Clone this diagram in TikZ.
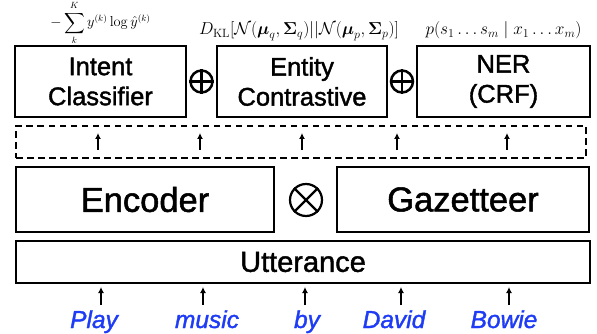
\documentclass[tikz,border=0pt]{standalone}
\usepackage{amsmath}
\usepackage[no-math]{fontspec}
\newfontfamily\hv[FakeBold=1.5]{Liberation Sans}
\usetikzlibrary{arrows.meta}
\definecolor{wordblue}{RGB}{30,60,245}
\begin{document}
\begin{tikzpicture}[x=1pt,y=-1pt,
  box/.style={draw, line width=2pt, rectangle, inner sep=0pt, align=center},
  small/.style={font=\hv\fontsize{25.5}{30}\selectfont},
  big/.style={font=\hv\fontsize{34.5}{40}\selectfont},
  mid/.style={font=\hv\fontsize{29}{34}\selectfont},
  arr/.style={-{Latex[length=6pt,width=6pt]}, line width=1.6pt},
  word/.style={anchor=base, font=\hv\itshape\fontsize{24.5}{28}\selectfont, text=wordblue},
  op/.style={circle, draw, inner sep=0pt},
  formula/.style={anchor=base, font=\fontsize{17.5}{20}\selectfont},
  ]
\useasboundingbox (0,0) rectangle (597,334);

% top modules
\node[box, small, minimum width=171pt, minimum height=71pt] (intent) at (100.5,81.5) {Intent\\Classifier};
\node[box, small, minimum width=170pt, minimum height=71pt] (entity) at (302,81.5) {Entity\\Contrastive};
\node[box, small, minimum width=173pt, minimum height=71pt] (ner) at (503.5,81.5) {NER\\(CRF)};

\node[op, line width=2.5pt, minimum size=22pt] (plusa) at (201.5,81.5) {};
\draw[line width=2.5pt] (plusa.north) -- (plusa.south) (plusa.west) -- (plusa.east);
\node[op, line width=2.5pt, minimum size=22pt] (plusb) at (402,81.5) {};
\draw[line width=2.5pt] (plusb.north) -- (plusb.south) (plusb.west) -- (plusb.east);

% formulas
\node[formula, font=\fontsize{13.5}{16}\selectfont] (fa) at (100.5,27) {$\displaystyle -\sum_{k}^{K} y^{(k)}\log\hat{y}^{(k)}$};
\node[formula] (fb) at (299,34.5) {$D_{\mathrm{KL}}[\mathcal{N}(\boldsymbol{\mu}_q,\boldsymbol{\Sigma}_q)||\mathcal{N}(\boldsymbol{\mu}_p,\boldsymbol{\Sigma}_p)]$};
\node[formula, font=\fontsize{18.5}{21}\selectfont] (fc) at (503.5,34.5) {$p(s_1\ldots s_m\mid x_1\ldots x_m)$};

% dashed layer
\node[draw, line width=1.8pt, dash pattern=on 6.5pt off 4.5pt, minimum width=570pt, minimum height=32pt, inner sep=0pt] (layer) at (301,142) {};
\foreach \i/\x in {1/98,2/200,3/302,4/397,5/507}{
  \coordinate (ls\i) at (\x,150);
  \coordinate (le\i) at (\x,133);
  \draw[arr] (ls\i) -- (le\i);
}

% encoder / gazetteer
\node[box, big, minimum width=258pt, minimum height=65pt] (enc) at (145,199.5) {Encoder};
\node[box, big, minimum width=252pt, minimum height=65pt] (gaz) at (463,199.5) {Gazetteer};
\node[op, line width=2.2pt, minimum size=32pt] (times) at (306,200) {};
\draw[line width=2.2pt] (times.north west) -- (times.south east) (times.north east) -- (times.south west);

% utterance
\node[box, mid, minimum width=574pt, minimum height=42pt] (utt) at (303,262) {Utterance};

% words
\node[word] (w1) at (94,328) {Play};
\node[word] (w2) at (207,328) {music};
\node[word] (w3) at (307,328) {by};
\node[word] (w4) at (394,328) {David};
\node[word] (w5) at (504,328) {Bowie};
\foreach \i/\x in {1/101,2/203,3/305,4/401,5/509}{
  \coordinate (ws\i) at (\x,305);
  \coordinate (we\i) at (\x,287);
  \draw[arr] (ws\i) -- (we\i);
}
\end{tikzpicture}
\end{document}
